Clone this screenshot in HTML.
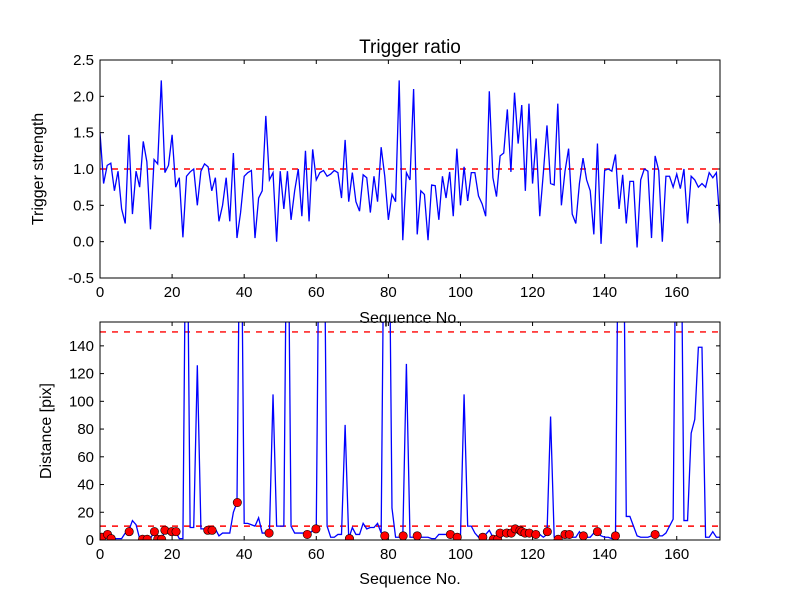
<!DOCTYPE html>
<html><head><meta charset="utf-8"><style>
body{margin:0;background:#fff;}
svg{display:block;font-family:"Liberation Sans","DejaVu Sans",sans-serif;}
</style></head><body>
<svg id="fig" width="800" height="600" viewBox="0 0 800 600">
<rect width="800" height="600" fill="#fff"/>
<defs>
<clipPath id="c1"><rect x="100" y="60" width="620" height="218"/></clipPath>
<clipPath id="c2"><rect x="100" y="322" width="620" height="218"/></clipPath>
</defs>
<g id="top"></g>
<g id="bot"></g>
</svg>
<script>
const ratioValues=[1.5,0.8,1.05,1.08,0.7,0.97,0.45,0.25,1.47,0.38,0.97,0.75,1.38,1.1,0.17,1.13,1.07,2.22,0.95,1.05,1.47,0.75,0.88,0.06,0.9,0.96,1.0,0.5,0.97,1.07,1.03,0.7,0.88,0.28,0.5,0.88,0.28,1.22,0.05,0.4,0.9,0.95,0.98,0.05,0.6,0.7,1.73,0.85,0.95,0.0,0.97,0.45,0.97,0.3,0.7,1.0,0.35,1.25,0.28,1.27,0.85,0.95,0.98,0.9,0.93,0.98,0.95,0.6,1.4,0.55,0.95,0.55,0.42,0.92,0.88,0.4,0.9,0.55,1.3,0.9,0.3,0.65,0.55,2.22,0.02,0.95,0.85,2.1,0.1,0.7,0.65,0.02,0.78,0.77,0.3,0.9,0.6,0.96,0.35,1.28,0.5,1.03,0.56,0.95,0.95,0.63,0.52,0.35,2.07,0.88,0.62,1.18,1.22,1.82,0.96,2.05,1.35,1.88,0.7,1.9,0.8,1.42,0.35,0.95,1.6,0.8,0.78,1.9,0.5,0.97,1.28,0.38,0.25,0.8,1.15,0.85,0.7,0.1,1.35,-0.03,0.98,1.0,0.97,1.2,0.45,0.92,0.25,0.83,0.83,-0.08,0.85,1.0,0.97,0.05,1.18,0.98,0.0,0.9,0.9,0.75,0.93,0.73,1.0,0.25,0.9,0.85,0.75,0.8,0.75,0.95,0.88,0.95,0.25];
const distValues=[3,4,1,2,1,1,1,5,7,14,11,1,1,1,1,6,2,1,6,7,7,6,1,1,300,9,9,126,8,8,8,7,8,3,5,5,5,20,27,300,12,12,11,10,16,5,5,5,105,10,10,10,300,10,5,5,5,5,4,7,10,300,300,10,2,2,4,4,83,1,9,4,4,12,8,9,9,12,5,300,300,23,2,2,2,127,2,2,2,2,2,2,1,1,4,4,4,4,3,2,2,105,10,10,5,2,1,4,7,2,1,1,4,5,5,8,6,5,5,5,4,4,4,2,4,89,2,1,1,4,4,2,2,6,2,2,2,5,5,3,2,2,1,1,300,300,17,17,10,3,2,2,2,3,3,3,3,5,10,15,300,300,14,14,77,87,139,139,2,2,6,2,2];
const dotIdx=[0.5,2.1,3.1,8.1,11.8,13.1,15.1,16,17.1,18,19.9,21.1,29.9,31.1,38.1,46.9,57.5,59.9,69.2,79,84.1,88,97.2,99.1,106.2,109.1,110.3,111,112.8,114.1,115.2,116.5,117,117.9,119.1,120.9,124.1,127.1,129,130.2,134.1,138,143,154];
const dotVal=[2,4,1,6,0.5,0.5,6,0.5,0.5,7,6,6,7,7,27,5,4,8,1,3,3,3,4,2,2,0.5,0.5,5,5,5,8,7,6,5,5,4,6,0.5,4,4,3,6,3,4];
const xTicks=[0,20,40,60,80,100,120,140,160];
const yTicksTop=[-0.5,0,0.5,1,1.5,2,2.5];
const yTicksBot=[0,20,40,60,80,100,120,140];
const refTop=[1];
const refBot=[10,150];

const NS="http://www.w3.org/2000/svg";
function mk(p,t,a){const e=document.createElementNS(NS,t);for(const k in a)e.setAttribute(k,a[k]);p.appendChild(e);return e;}
const L=100,R=720,XMAX=172;
const sx=v=>L+v/XMAX*(R-L);
function axes(g,T,B,ymin,ymax,yt,fmt){
  const sy=v=>B-(v-ymin)/(ymax-ymin)*(B-T);
  for(const t of xTicks){const x=sx(t);
    const a=mk(g,'line',{x1:x,x2:x,y1:B,y2:B-4,stroke:'#000'});
    
    mk(g,'line',{x1:x,x2:x,y1:T,y2:T+4,stroke:'#000'});
    const tx=mk(g,'text',{x:x,y:B+19,'text-anchor':'middle','font-size':15});tx.textContent=t;
    }
  for(const t of yt){const y=sy(t);
    mk(g,'line',{x1:L,x2:L+4,y1:y,y2:y,stroke:'#000'});
    mk(g,'line',{x1:R,x2:R-4,y1:y,y2:y,stroke:'#000'});
    const tx=mk(g,'text',{x:L-6,y:y+5,'text-anchor':'end','font-size':15});tx.textContent=fmt(t);
    }
  return sy;
}
// top
const g1=document.getElementById('top');
const sy1=axes(g1,60,278,-0.5,2.5,yTicksTop,t=>t.toFixed(1));
const pc1=mk(g1,'g',{'clip-path':'url(#c1)'});
for(const r of refTop){const l=mk(pc1,'line',{x1:L,x2:R,y1:sy1(r),y2:sy1(r),stroke:'#f00','stroke-width':1.4,'stroke-dasharray':'6,6'});
}
const p1=mk(pc1,'polyline',{points:ratioValues.map((v,i)=>sx(i)+','+sy1(v)).join(' '),fill:'none',stroke:'#00f','stroke-width':1.3});

mk(g1,'rect',{x:L,y:60,width:R-L,height:218,fill:'none',stroke:'#000'});
let t=mk(g1,'text',{x:410,y:53,'text-anchor':'middle','font-size':19});t.textContent='Trigger ratio';

t=mk(g1,'text',{x:410,y:323,'text-anchor':'middle','font-size':16});t.textContent='Sequence No.';

t=mk(g1,'text',{x:43,y:169,'text-anchor':'middle','font-size':16,transform:'rotate(-90 43 169)'});t.textContent='Trigger strength';

// bottom
const g2=document.getElementById('bot');
const sy2=axes(g2,322,540,0,157.2,yTicksBot,t=>String(t));
const pc2=mk(g2,'g',{'clip-path':'url(#c2)'});
for(const r of refBot){const l=mk(pc2,'line',{x1:L,x2:R,y1:sy2(r),y2:sy2(r),stroke:'#f00','stroke-width':1.4,'stroke-dasharray':'6,6'});
}
const p2=mk(pc2,'polyline',{points:distValues.map((v,i)=>sx(i)+','+sy2(v)).join(' '),fill:'none',stroke:'#00f','stroke-width':1.3});

dotIdx.forEach((d,k)=>{const c=mk(pc2,'circle',{cx:sx(d),cy:sy2(dotVal[k]),r:4.2,fill:'#f00',stroke:'#000','stroke-width':0.6});
});
mk(g2,'rect',{x:L,y:322,width:R-L,height:218,fill:'none',stroke:'#000'});
t=mk(g2,'text',{x:410,y:584,'text-anchor':'middle','font-size':16});t.textContent='Sequence No.';

t=mk(g2,'text',{x:51,y:431,'text-anchor':'middle','font-size':16,transform:'rotate(-90 51 431)'});t.textContent='Distance [pix]';

</script>
</body></html>
